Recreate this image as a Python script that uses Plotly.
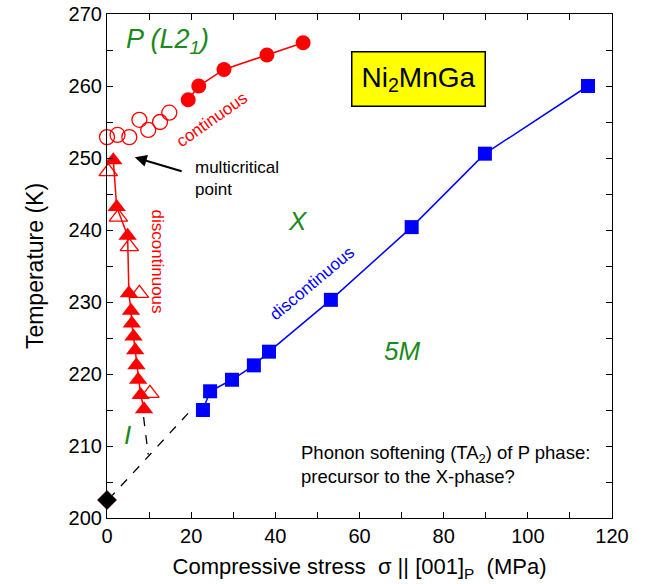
import plotly.graph_objects as go

# Data
circ_fill_x = [19.3, 21.8, 27.8, 38.0, 46.6]
circ_fill_y = [258.1, 260.0, 262.3, 264.3, 266.0]
circ_open_x = [0.0, 2.5, 5.3, 7.7, 9.8, 12.6, 14.8]
circ_open_y = [252.9, 253.2, 252.9, 255.3, 253.9, 255.0, 256.3]
tri_fill_x = [1.5, 2.3, 4.9, 5.2, 5.7, 5.9, 6.3, 6.7, 7.0, 7.4, 8.0, 8.8]
tri_fill_y = [249.7, 243.2, 239.2, 231.2, 228.8, 227.0, 225.2, 223.3, 221.2, 219.2, 217.1, 215.1]
tri_open_x = [0.3, 2.7, 5.3, 7.7, 10.2]
tri_open_y = [248.1, 241.8, 237.7, 231.2, 217.3]
sq_x = [22.8, 24.5, 29.7, 34.9, 38.5, 53.2, 72.4, 89.8, 114.3]
sq_y = [215.0, 217.6, 219.2, 221.2, 223.1, 230.3, 240.4, 250.6, 260.0]
dia_x = [0.0]
dia_y = [202.5]
dash1_x = [0.4, 20.0]
dash1_y = [202.6, 215.0]
dash2_x = [8.7, 9.8]
dash2_y = [214.0, 208.8]

RED = "#ff0000"
BLUE = "#0000ff"
GREEN = "#1a8a1a"
FONT = "Liberation Sans, Arial, sans-serif"

fig = go.Figure()
fig.add_trace(go.Scatter(x=dash1_x, y=dash1_y, mode="lines",
                         line=dict(color="black", width=1.3, dash="dash")))
fig.add_trace(go.Scatter(x=dash2_x, y=dash2_y, mode="lines",
                         line=dict(color="black", width=1.3, dash="dash")))
fig.add_trace(go.Scatter(x=circ_open_x, y=circ_open_y, mode="markers", cliponaxis=False,
                         marker=dict(symbol="circle-open", size=15, color=RED, line=dict(width=1.3))))
fig.add_trace(go.Scatter(x=circ_fill_x, y=circ_fill_y, mode="lines+markers",
                         line=dict(color=RED, width=1.5),
                         marker=dict(symbol="circle", size=15, color=RED)))
fig.add_trace(go.Scatter(x=tri_open_x, y=tri_open_y, mode="markers", cliponaxis=False,
                         marker=dict(symbol="triangle-up-open", size=16, color=RED, line=dict(width=1.3))))
fig.add_trace(go.Scatter(x=tri_fill_x, y=tri_fill_y, mode="lines+markers",
                         line=dict(color=RED, width=1.5),
                         marker=dict(symbol="triangle-up", size=16, color=RED)))
fig.add_trace(go.Scatter(x=sq_x, y=sq_y, mode="lines+markers",
                         line=dict(color=BLUE, width=1.5),
                         marker=dict(symbol="square", size=14, color=BLUE)))
fig.add_trace(go.Scatter(x=dia_x, y=dia_y, mode="markers", cliponaxis=False,
                         marker=dict(symbol="diamond", size=15, color="black",
                                     line=dict(color="#a05050", width=0.5))))

ann = []
def txt(x, y, t, size, color="black", italic=False, angle=0, xanchor="center", align="center", **kw):
    ann.append(dict(x=x, y=y, xref="x", yref="y", text=t, showarrow=False,
                    font=dict(size=size, color=color, family=FONT,
                              style="italic" if italic else "normal"),
                    textangle=angle, xanchor=xanchor, align=align, **kw))

txt(14.4, 266.3, "P (L2<sub>1</sub>)", 27, GREEN, italic=True)
txt(45.4, 241.2, "X", 26, GREEN, italic=True)
txt(70.0, 223.2, "5M", 26, GREEN, italic=True)
txt(4.8, 211.5, "I", 26, GREEN, italic=True)
txt(25.0, 255.3, "continuous", 17, RED, angle=-35)
txt(11.9, 235.6, "discontinuous", 17, RED, angle=90)
txt(48.7, 232.6, "discontinuous", 17, BLUE, angle=-40)
txt(20.4, 247.2, "multicritical<br>point", 17, "black", xanchor="left", align="left")
txt(45.6, 207.4, "Phonon softening (TA<sub>2</sub>) of P phase:<br>precursor to the X-phase?",
    18.5, "black", xanchor="left", align="left")
txt(73.9, 261.0, "Ni<sub>2</sub>MnGa", 28, "black", bgcolor="#ffff00",
    bordercolor="black", borderwidth=1.5, borderpad=9)
ann.append(dict(x=6.6, y=250.1, ax=18.1, ay=248.1, xref="x", yref="y", axref="x", ayref="y",
                text="", showarrow=True, arrowhead=2, arrowsize=1.2, arrowwidth=2, arrowcolor="black"))

axis_common = dict(showline=True, linecolor="black", linewidth=1.2, mirror="ticks",
                   ticks="inside", ticklen=6, tickcolor="black", showgrid=False, zeroline=False,
                   automargin=False,
                   tickfont=dict(size=20, family=FONT, color="black"))
fig.update_layout(
    width=648, height=584, margin=dict(l=107, r=36, t=14, b=66),
    paper_bgcolor="white", plot_bgcolor="white", showlegend=False,
    annotations=ann,
    xaxis=dict(range=[0, 120], dtick=20, tick0=0,
               minor=dict(dtick=10, ticks="inside", ticklen=6, tickcolor="black"),
               title=dict(text="Compressive stress  σ || [001]<sub>P</sub>  (MPa)", standoff=12,
                          font=dict(size=22, family=FONT, color="black")),
               **axis_common),
    yaxis=dict(range=[200, 270], dtick=10, tick0=200,
               minor=dict(dtick=5, ticks="inside", ticklen=6, tickcolor="black"),
               title=dict(text="Temperature (K)", standoff=18,
                          font=dict(size=23, family=FONT, color="black")),
               **axis_common),
)
fig.write_html("out.html")
